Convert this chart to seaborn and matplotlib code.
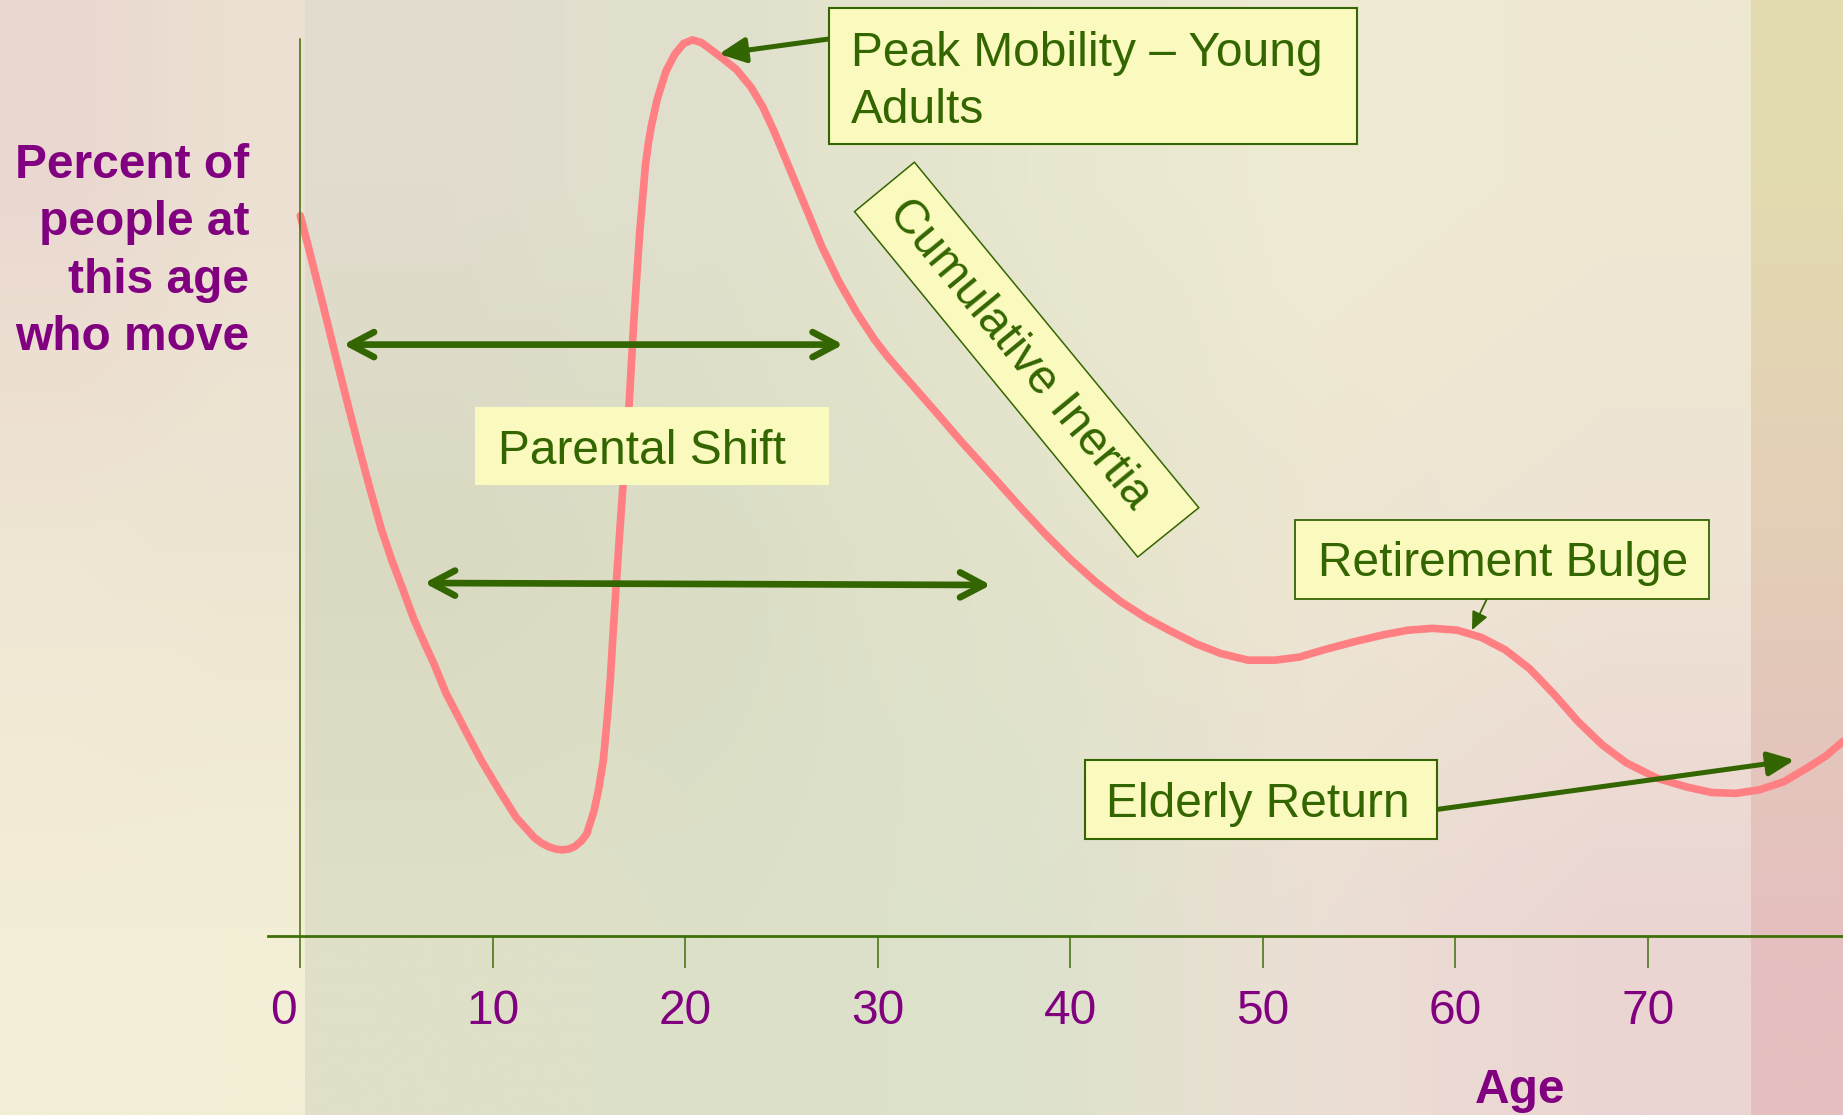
import numpy as np
import pandas as pd
import matplotlib
matplotlib.use("Agg")
import matplotlib.pyplot as plt
import matplotlib.transforms as mtransforms
from matplotlib.patches import Rectangle, Polygon
import seaborn as sns

# ---------------- data ----------------
ages = [0.0, 0.55, 1.16, 1.77, 2.38, 2.99, 3.6, 4.2, 4.75, 5.3, 5.9, 6.5,
        6.96, 7.56, 8.48, 9.39, 10.31, 11.22, 12.14, 12.5, 12.9, 13.25, 13.6,
        13.95, 14.27, 14.6, 14.88, 15.25, 15.49, 15.74, 15.95, 16.1, 16.25,
        16.4, 16.56, 16.77, 17.07, 17.32, 17.63, 17.93, 18.08, 18.23, 18.54,
        18.99, 19.45, 19.91, 20.37, 20.83, 21.28, 21.89, 22.65, 23.42, 24.03,
        24.63, 25.25, 25.85, 26.47, 27.08, 27.99, 28.9, 29.82, 30.5, 31.1,
        32.2, 33.3, 34.3, 35.9, 37.4, 38.7, 40.0, 41.3, 42.6, 43.9, 45.2,
        46.5, 47.8, 49.23, 50.64, 51.9, 53.16, 54.73, 56.3, 57.56, 58.82,
        60.08, 61.33, 62.59, 63.85, 65.1, 66.37, 67.63, 68.88, 70.46, 72.03,
        73.29, 74.55, 75.8, 77.06, 78.32, 79.26, 80.13]
movers = [80.3, 75.7, 70.5, 65.2, 60.0, 54.9, 50.0, 45.4, 41.9, 38.8, 35.3,
          32.4, 30.25, 27.1, 23.3, 19.6, 16.3, 13.2, 11.0, 10.4, 9.95, 9.7, 9.6,
          9.7, 10.0, 10.6, 11.4, 13.9, 16.3, 19.6, 24.5, 28.6, 33.9,
          38.9, 44.1, 50.5, 59.0, 68.5, 78.5, 86.0, 88.4, 90.3, 93.3,
          96.4, 98.3, 99.5, 99.9, 99.6, 98.9, 97.9, 96.6, 94.6, 92.4,
          89.6, 86.4, 83.3, 80.1, 76.9, 72.9, 69.5, 66.5, 64.6, 63.1,
          60.4, 57.7, 55.2, 51.4, 47.8, 44.8, 42.0, 39.5, 37.3, 35.5, 34.0,
          32.6, 31.5, 30.75, 30.75, 31.1, 31.9, 32.8, 33.6, 34.1, 34.3,
          34.1, 33.3, 31.9, 29.8, 27.0, 23.9, 21.3, 19.3, 17.6, 16.6,
          16.0, 15.9, 16.3, 17.2, 18.8, 20.1, 21.7]
tick_ages = [0, 10, 20, 30, 40, 50, 60, 70]
tick_labels = ["0", "10", "20", "30", "40", "50", "60", "70"]
y_label = "Percent of\npeople at\nthis age\nwho move"
x_label = "Age"
ann_peak = "Peak Mobility \u2013 Young\nAdults"
ann_parental = "Parental Shift"
ann_inertia = "Cumulative Inertia"
ann_retire = "Retirement Bulge"
ann_elderly = "Elderly Return"

df = pd.DataFrame({"age": ages, "movers": movers})

# ---------------- style ----------------
sns.set_theme(style="white")
plt.rcParams["font.family"] = ["Liberation Sans", "DejaVu Sans"]

W, H = 1843, 1115
GREEN = "#336600"
AXGREEN = "#3f6f08"
PURPLE = "#800080"
BOXFILL = "#faf9be"
CURVE = "#ff7f82"
FS = 34.5

fig = plt.figure(figsize=(W / 100, H / 100), dpi=100)


def P(x, y):
    return (x / W, 1 - y / H)


# ---------------- background ----------------
bg = fig.add_axes([0, 0, 1, 1], zorder=-1)
bg.axis("off")


def hexarr(rows):
    return np.array([[matplotlib.colors.to_rgb(c) for c in r] for r in rows])


regA = hexarr([["#ead8d0", "#ece0d2"],
               ["#efe6d3", "#ede6d2"],
               ["#f3eed6", "#f3efd6"]])
regB = hexarr([["#e2dccf", "#e0e1cd", "#e8e7cf", "#efebd3", "#eee8d2"],
               ["#d9dac1", "#dbdec5", "#e3e3cb", "#ede6d2", "#efe3d5"],
               ["#e0e0c8", "#dce0c8", "#dde2cc", "#ecdfd5", "#ebd5d2"]])
regC = hexarr([["#e3dbb0", "#e3dbb0"],
               ["#e3cdb8", "#e3cdb8"],
               ["#e5bfbf", "#e5bfbf"]])
bg.imshow(regA, extent=(0, 305, H, 0), interpolation="bilinear", aspect="auto")
bg.imshow(regB, extent=(305, 1751, H, 0), interpolation="bilinear", aspect="auto")
bg.imshow(regC, extent=(1751, W, H, 0), interpolation="bilinear", aspect="auto")
bg.set_xlim(0, W)
bg.set_ylim(H, 0)

# ---------------- main axes ----------------
ax = fig.add_axes([267.6 / W, (H - 936) / H, (W - 267.6) / W, (936 - 39) / H])
ax.set_facecolor("none")
sns.lineplot(data=df, x="age", y="movers", ax=ax, color=CURVE, lw=5.5,
             errorbar=None, zorder=2)
for ln in ax.lines:
    ln.set_solid_joinstyle("round")
    ln.set_solid_capstyle("round")
    ln.set_clip_on(False)
ax.set_xlim(-1.70, 80.13)
ax.set_ylim(0, 100)

for s in ["top", "right"]:
    ax.spines[s].set_visible(False)
ax.spines["left"].set_position(("data", 0))
ax.spines["left"].set_color(AXGREEN)
ax.spines["left"].set_linewidth(1.1)
ax.spines["bottom"].set_color(AXGREEN)
ax.spines["bottom"].set_linewidth(2.0)

ax.set_yticks([])
ax.set_xticks(tick_ages)
ax.set_xticklabels(tick_labels)
ax.tick_params(axis="x", direction="out", length=23, width=1.1, color=AXGREEN,
               labelsize=FS, labelcolor=PURPLE, pad=15, bottom=True)
# the "0" label sits slightly left of its tick in the reference
zero_lbl = ax.get_xticklabels()[0]
zero_lbl.set_transform(zero_lbl.get_transform() +
                       mtransforms.ScaledTranslation(-12 / 72, 0, fig.dpi_scale_trans))

ax.set_xlabel(x_label, fontsize=FS, fontweight="bold", color=PURPLE,
              va="baseline", ha="center")
ax.xaxis.set_label_coords((1520 - 267.6) / (W - 267.6), (936 - 1103) / 897)
ax.set_ylabel("")

fig.text(249 / W, 1 - 350 / H, y_label, fontsize=FS, fontweight="bold",
         color=PURPLE, ha="right", va="baseline", multialignment="right",
         linespacing=1.355)

# ---------------- arrows ----------------
def arrow(x0, y0, x1, y1, style, lw):
    ax.annotate("", xy=P(x1, y1), xytext=P(x0, y0),
                xycoords="figure fraction", textcoords="figure fraction",
                arrowprops=dict(arrowstyle=style, lw=lw, color=GREEN,
                                shrinkA=0, shrinkB=0, mutation_scale=20),
                zorder=4)


arrow(843.3, 344.6, 343.3, 344.6, "<->,head_length=0.85,head_width=0.45", 4.8)
arrow(990.8, 585.0, 424.3, 583.0, "<->,head_length=0.85,head_width=0.45", 4.8)
arrow(828.6, 39, 719, 54, "-|>,head_length=0.8,head_width=0.38", 3.6)
arrow(1436.5, 809.5, 1794.7, 760, "-|>,head_length=0.8,head_width=0.36", 3.6)
arrow(1487, 598.7, 1472, 630, "-|>,head_length=0.55,head_width=0.25", 1.3)

# ---------------- boxes ----------------
def box(x0, y0, x1, y1, lw):
    r = Rectangle(P(x0, y1), (x1 - x0) / W, (y1 - y0) / H,
                  transform=fig.transFigure, facecolor=BOXFILL,
                  edgecolor=GREEN if lw > 0 else "none", lw=lw, zorder=5)
    fig.add_artist(r)


box(828.6, 8, 1357, 144, 1.5)
box(475, 407, 828.6, 484.6, 0)
box(1294.7, 519.6, 1708.5, 598.7, 1.3)
box(1085, 760, 1436.5, 839, 1.5)

corners = [P(854.5, 211.6), P(914.4, 162.2), P(1198.8, 507.7), P(1137.7, 557)]
fig.add_artist(Polygon(corners, closed=True, transform=fig.transFigure,
                       facecolor=BOXFILL, edgecolor=GREEN, lw=1.1, zorder=5))

# ---------------- annotation texts ----------------
tkw = dict(fontsize=FS, color=GREEN, zorder=6)
fig.text(*P(851, 123), ann_peak, ha="left", va="baseline", linespacing=1.35, **tkw)
fig.text(*P(497.6, 463.6), ann_parental, ha="left", va="baseline", **tkw)
fig.text(*P(1317.7, 576.5), ann_retire, ha="left", va="baseline", **tkw)
fig.text(*P(1105.5, 817), ann_elderly, ha="left", va="baseline", **tkw)
fig.text(*P(1019.5, 354.6), ann_inertia, ha="center", va="center",
         rotation=-50.5, rotation_mode="anchor", **tkw)

fig.savefig("out.png", dpi=100)
